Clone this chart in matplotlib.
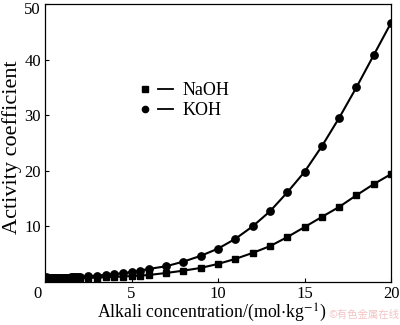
import matplotlib
matplotlib.use("Agg")
import matplotlib.pyplot as plt
from matplotlib.lines import Line2D
from matplotlib.legend_handler import HandlerTuple
import matplotlib.transforms as mtransforms

# ---- data ----
conc = [0.05, 0.1, 0.2, 0.3, 0.4, 0.5, 0.6, 0.7, 0.8, 0.9, 1.0,
        1.1, 1.2, 1.3, 1.4, 1.5, 1.6, 1.7, 1.8, 1.9, 2.0,
        2.5, 3.0, 3.5, 4.0, 4.5, 5.0, 5.5, 6.0,
        7, 8, 9, 10, 11, 12, 13, 14, 15, 16, 17, 18, 19, 20]
naoh = [0.82, 0.77, 0.73, 0.71, 0.70, 0.69, 0.685, 0.68, 0.68, 0.68, 0.68,
        0.68, 0.68, 0.68, 0.685, 0.69, 0.69, 0.695, 0.70, 0.70, 0.71,
        0.75, 0.80, 0.86, 0.92, 0.98, 1.07, 1.15, 1.26,
        1.62, 2.04, 2.53, 3.25, 4.15, 5.23, 6.44, 8.07, 9.87, 11.7, 13.5, 15.6, 17.6, 19.4]
koh = [0.84, 0.80, 0.76, 0.74, 0.735, 0.73, 0.73, 0.735, 0.74, 0.745, 0.76,
       0.77, 0.78, 0.79, 0.80, 0.81, 0.83, 0.84, 0.86, 0.87, 0.89,
       1.05, 1.15, 1.28, 1.42, 1.58, 1.80, 2.05, 2.35,
       2.83, 3.67, 4.70, 6.00, 7.76, 10.0, 12.7, 16.1, 19.8, 24.4, 29.5, 35.0, 40.8, 46.6]
labels = ["NaOH", "KOH"]
xticks = [0, 5, 10, 15, 20]
yticks = [10, 20, 30, 40, 50]

plt.rcParams['font.family'] = ['Liberation Serif', 'DejaVu Serif']
plt.rcParams['mathtext.fontset'] = 'stix'

fig = plt.figure(figsize=(4.0, 3.25), dpi=100)
ax = fig.add_axes([45/400, 1 - 282/325, 346/400, 278/325])

ax.plot(conc, naoh, color='black', lw=1.5, marker='s', ms=4.8, label=labels[0])
ax.plot(conc, koh, color='black', lw=1.5, marker='o', ms=5.3, label=labels[1])

ax.set_xlim(0, 20)
ax.set_ylim(0, 50)
ax.set_xticks(xticks)
ax.set_yticks(yticks)
ax.tick_params(direction='in', length=3, width=0.8, labelsize=12, pad=3)
for s in ax.spines.values():
    s.set_linewidth(0.9)

# shift origin "0" label slightly left, top "50" label slightly down
lbl0 = ax.get_xticklabels()[0]
lbl0.set_transform(lbl0.get_transform() + mtransforms.ScaledTranslation(-7/100, 0, fig.dpi_scale_trans))
lbl50 = ax.get_yticklabels()[-1]
lbl50.set_transform(lbl50.get_transform() + mtransforms.ScaledTranslation(0, -3.5/100, fig.dpi_scale_trans))

ax.set_xlabel('Alkali concentration/(mol$\\cdot$kg$^{-1}$)', fontsize=12.8)
ax.xaxis.set_label_coords(0.483, (282 - 313) / 278, transform=ax.transAxes)
ax.xaxis.label.set_va('center')
ax.set_ylabel('Activity coefficient', fontsize=16)
ax.yaxis.set_label_coords((12 - 45) / 346, (282 - 147) / 278, transform=ax.transAxes)
ax.yaxis.label.set_va('center')

m1 = Line2D([], [], color='black', marker='s', ms=4.2, ls='none')
m2 = Line2D([], [], color='black', marker='o', ms=4.5, ls='none')
ln = Line2D([], [], color='black', lw=1.3)
ax.legend([(m1, ln), (m2, ln)], labels,
          handler_map={tuple: HandlerTuple(ndivide=None, pad=0.3)},
          loc='center left', bbox_to_anchor=(0.24, 0.653), frameon=False,
          fontsize=13, handlelength=2.0, handletextpad=0.5, labelspacing=0.15,
          borderpad=0)

fig.text(399/400, 1 - 315/325, '©有色金属在线', color='#f2c4c4', fontsize=7.5,
         ha='right', va='center', family=['Noto Sans CJK SC', 'DejaVu Sans'])

fig.savefig('out.png', dpi=100)
